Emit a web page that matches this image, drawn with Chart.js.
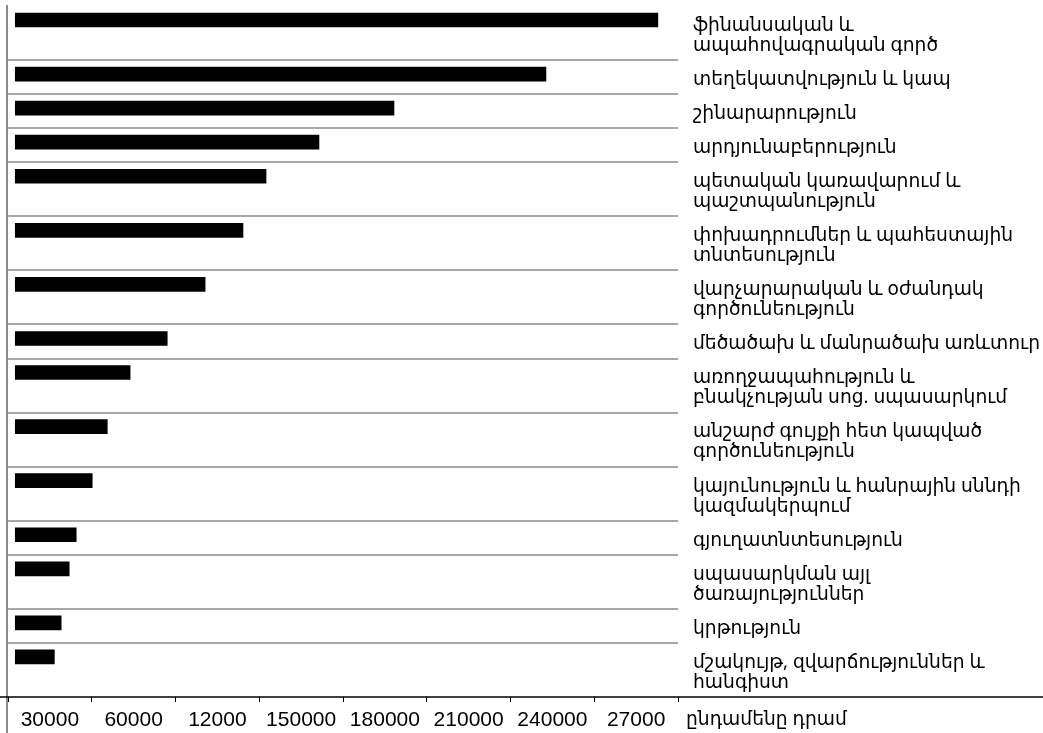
<!DOCTYPE html>
<html><head><meta charset="utf-8">
<script src="https://cdn.jsdelivr.net/npm/chart.js@4/dist/chart.umd.min.js"></script>
<style>html,body{margin:0;padding:0;background:#fff}#wrap{width:1043px;height:733px;position:relative}</style>
</head><body><div id="wrap"><canvas id="c"></canvas></div>
<script>
const categories = [
  ["ֆինանսական և", "ապահովագրական գործ"],
  ["տեղեկատվություն և կապ"],
  ["շինարարություն"],
  ["արդյունաբերություն"],
  ["պետական կառավարում և", "պաշտպանություն"],
  ["փոխադրումներ և պահեստային", "տնտեսություն"],
  ["վարչարարական և օժանդակ", "գործունեություն"],
  ["մեծածախ և մանրածախ առևտուր"],
  ["առողջապահություն և", "բնակչության սոց. սպասարկում"],
  ["անշարժ գույքի հետ կապված", "գործունեություն"],
  ["կայունություն և հանրային սննդի", "կազմակերպում"],
  ["գյուղատնտեսություն"],
  ["սպասարկման այլ", "ծառայություններ"],
  ["կրթություն"],
  ["մշակույթ, զվարճություններ և", "հանգիստ"]
];
const values = [264700, 218600, 156000, 125100, 103300, 93800, 78200, 62600, 47300, 37900, 31700, 25100, 22200, 18900, 16100];
const tickLabels = ["30000", "60000", "12000", "150000", "180000", "210000", "240000", "27000"];
const unitLabel = "ընդամենը դրամ";

const ARM_FONT = '"Noto Sans", "DejaVu Sans"';
const ARM_SIZE = 18.7;
const LINE_H = 20, ROW_PAD = 14, BAR_H = 14, BAR_GAP = 7, LABEL_SHIFT = 2.5;
const rowTops = []; let acc = 0;
categories.forEach(c => { rowTops.push(acc); acc += ROW_PAD + LINE_H * c.length; });
const total = acc;
const labelPos = categories.map((c, i) => rowTops[i] + (ROW_PAD + LINE_H * c.length) / 2 + LABEL_SHIFT);
const barCenters = rowTops.map(t => t + BAR_GAP + BAR_H / 2);
const boundaries = rowTops.slice(1);

const decor = {
  id: 'decor',
  afterDraw(chart) {
    const ctx = chart.ctx, xa = chart.scales.xcat, ya = chart.scales.y, area = chart.chartArea;
    ctx.save();
    ctx.strokeStyle = '#8a8a8a'; ctx.lineWidth = 2;
    ctx.beginPath(); ctx.moveTo(area.left - 1, area.top - 1); ctx.lineTo(area.left - 1, chart.height); ctx.stroke();
    ctx.strokeStyle = '#000'; ctx.lineWidth = 1.5;
    ctx.beginPath(); ctx.moveTo(0, xa.top); ctx.lineTo(chart.width, xa.top); ctx.stroke();
    ctx.fillStyle = '#000'; ctx.font = ARM_SIZE + 'px ' + ARM_FONT; ctx.textBaseline = 'middle'; ctx.textAlign = 'left';
    ctx.fillText(unitLabel, ya.left + 8, xa.top + 23);
    ctx.restore();
  }
};

new Chart(document.getElementById('c'), {
  type: 'bar',
  data: {
    datasets: [{
      data: values.map((v, i) => ({ x: v, y: barCenters[i] })),
      backgroundColor: '#000',
      borderWidth: 0,
      barThickness: BAR_H
    }]
  },
  options: {
    indexAxis: 'y',
    responsive: true,
    maintainAspectRatio: false,
    animation: false,
    layout: { padding: { top: 6, left: 8, right: 0, bottom: 0 } },
    plugins: { legend: { display: false }, tooltip: { enabled: false } },
    scales: {
      x: { type: 'linear', display: false, min: -3000, max: 273000 },
      xcat: {
        type: 'category', axis: 'x', position: 'bottom', labels: tickLabels,
        offset: true,
        grid: { offset: true, drawOnChartArea: false, drawTicks: true, tickLength: 5, color: '#000', lineWidth: 1 },
        border: { display: false },
        ticks: { color: '#000', padding: 6, font: { family: '"Liberation Sans", Arial', size: 21 }, maxRotation: 0, autoSkip: false },
        afterFit: s => { s.height = 36; s.paddingLeft = 0; s.paddingRight = 0; }
      },
      y: {
        type: 'linear', position: 'right', reverse: true, min: 0, max: total, offset: false,
        afterBuildTicks: s => {
          s.ticks = boundaries.map(v => ({ value: v })).concat(labelPos.map(v => ({ value: v })))
            .sort((a, b) => a.value - b.value);
        },
        grid: {
          offset: false,
          drawTicks: false,
          lineWidth: 2,
          color: c => (c.tick && boundaries.includes(c.tick.value)) ? '#a8a8a8' : 'rgba(0,0,0,0)'
        },
        border: { display: false },
        ticks: {
          autoSkip: false, padding: 15, color: '#000',
          font: { family: ARM_FONT, size: ARM_SIZE, lineHeight: '20px' },
          callback: v => { const i = labelPos.indexOf(v); return i >= 0 ? categories[i] : ''; }
        },
        afterFit: s => { s.width = 365; s.paddingTop = 0; s.paddingBottom = 0; }
      }
    }
  },
  plugins: [decor]
});
</script></body></html>
